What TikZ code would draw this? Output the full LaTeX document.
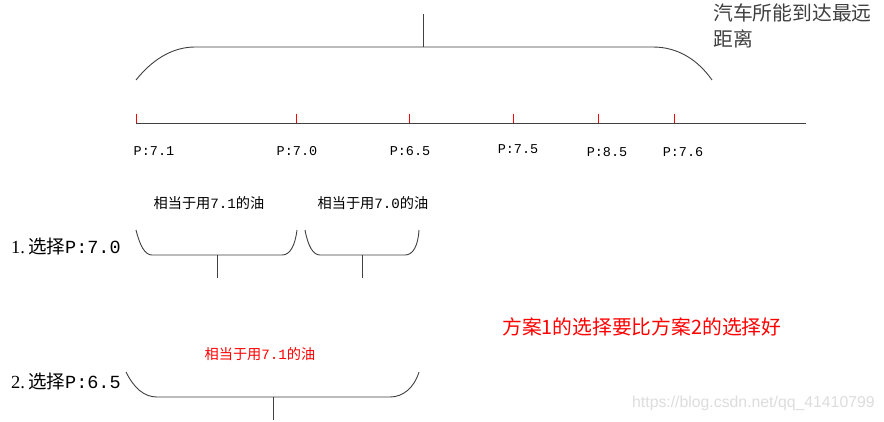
\documentclass[tikz,border=0pt]{standalone}
\usepackage{fontspec}
\newfontfamily\cjk{Noto Sans CJK SC}
\newfontfamily\mono{Liberation Mono}
\newfontfamily\serifl{Liberation Serif}
\newfontfamily\sansl{Liberation Sans}
\definecolor{linegray}{HTML}{404040}
\definecolor{wmgray}{HTML}{DDDDDD}
\begin{document}
\begin{tikzpicture}[x=1pt,y=-1pt,
  brace/.style={draw=linegray,line width=0.9pt},
  redtick/.style={draw=red,line width=1.1pt},
  plabel/.style={font=\mono\fontsize{13.5}{14}\selectfont,inner sep=0pt},
  small/.style={font=\fontsize{14.2}{15}\selectfont,inner sep=0pt},
  rowlabel/.style={font=\fontsize{18.5}{20}\selectfont,inner sep=0pt,anchor=west}]
\useasboundingbox[fill=white] (0,0) rectangle (884,421);

% top brace
\draw[brace] (136,80) .. controls (152,60) and (172,47) .. (195,47) -- (653,47)
  .. controls (678,47) and (698,60) .. (712,80);
\coordinate (tb) at (423,47);
\coordinate (tt) at (423,14);
\draw[brace] (tb) -- (tt);
\node[anchor=north west,align=left,inner sep=0pt,font=\cjk\fontsize{19.8}{26}\selectfont,text=linegray] (far) at (713,4) {汽车所能到达最远\\距离};

% axis
\coordinate (a0) at (136,123);
\coordinate (a1) at (806,123);
\draw[brace] (a0) -- (a1);
\foreach \x in {136,296,409,513,598,674}{
  \draw[redtick] (\x+0.5,113.5) -- (\x+0.5,122.5);
}
\node[plabel] (p1) at (154,151) {P:7.1};
\node[plabel] (p2) at (297,151) {P:7.0};
\node[plabel] (p3) at (410,151) {P:6.5};
\node[plabel] (p4) at (518,149) {P:7.5};
\node[plabel] (p5) at (607,152) {P:8.5};
\node[plabel] (p6) at (683,152) {P:7.6};

% row 1
\node[rowlabel] (r1) at (11,246) {\serifl 1.\,\cjk 选择\mono P:7.0};
\draw[brace] (136,230) .. controls (140,246) and (145,255) .. (152,255) -- (282,255)
  .. controls (290,255) and (295,246) .. (297,230);
\draw[brace] (217,255) -- (217,278);
\node[small] (l1) at (209,203) {\cjk 相当于用\mono 7.1\cjk 的油};
\draw[brace] (305,230) .. controls (308,246) and (313,255) .. (320,255) -- (405,255)
  .. controls (413,255) and (418,246) .. (419,230);
\draw[brace] (362,255) -- (362,278);
\node[small] (l2) at (373,203) {\cjk 相当于用\mono 7.0\cjk 的油};

% row 2
\node[rowlabel] (r2) at (11,381) {\serifl 2.\,\cjk 选择\mono P:6.5};
\draw[brace] (126,372) .. controls (134,388) and (144,397) .. (157,397) -- (390,397)
  .. controls (403,397) and (414,388) .. (419,372);
\draw[brace] (273,397) -- (273,420);
\node[small,text=red] (l3) at (260,354) {\cjk 相当于用\mono 7.1\cjk 的油};

% conclusion
\node[anchor=west,inner sep=0pt,text=red,font=\cjk\fontsize{19.8}{22}\selectfont] (concl) at (502,327) {方案1的选择要比方案2的选择好};

% watermark
\node[anchor=west,inner sep=0pt,text=wmgray,font=\sansl\fontsize{15.8}{18}\selectfont] (wm) at (632,403) {https://blog.csdn.net/qq\_41410799};
\end{tikzpicture}
\end{document}
